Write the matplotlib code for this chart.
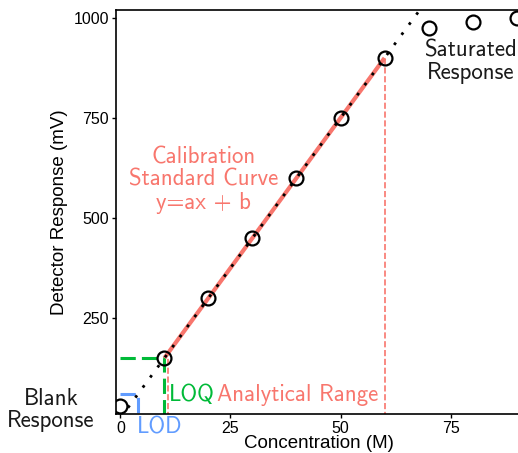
import matplotlib
matplotlib.use("Agg")
import matplotlib.pyplot as plt
import numpy as np

# calibration data
conc = [0, 10, 20, 30, 40, 50, 60, 70, 80, 90]
response = [30, 150, 300, 450, 600, 750, 900, 975, 990, 1000]

slope, intercept = 15, 0
lod = (4, 60)
loq = (10, 150)
range_lo, range_hi = 10.7, 60

x_ticks = [0, 25, 50, 75]
y_ticks = [250, 500, 750, 1000]

red = '#F8766D'
green = '#00BA38'
blue = '#619CFF'
annot_font = 'cmss10'
fs = 16.5

fig = plt.figure(figsize=(5.18, 4.53), dpi=100)
ax = fig.add_axes([116 / 518, 39 / 453, 405 / 518, 404 / 453])
ax.set_xlim(-1, 91)
ax.set_ylim(10, 1020)

# dotted theoretical line
xl = np.array([-5, 100])
ax.plot(xl, slope * xl + intercept, color='black', ls=(0, (1, 3.5)), lw=2, zorder=4)

# calibration range line
ax.plot([conc[1], conc[6]], [response[1], response[6]], color=red, lw=3, zorder=3,
        solid_capstyle='butt')

# analytical range verticals
ax.plot([range_lo, range_lo], [0, response[1]], color=red, ls='--', lw=1.2, zorder=2)
ax.plot([range_hi, range_hi], [0, response[6]], color=red, ls='--', lw=1.2, zorder=2)

# LOQ and LOD markers
ax.plot([0, loq[0], loq[0]], [loq[1], loq[1], 0], color=green, ls=(0, (5, 2)), lw=2.2, zorder=2)
ax.plot([0, lod[0], lod[0]], [lod[1], lod[1], 0], color=blue, ls=(0, (5, 2)), lw=2.2, zorder=2)

ax.plot(conc, response, 'o', ms=10, mfc='none', mec='black', mew=1.6, zorder=5)

# annotations
ax.text(18.8, 595, 'Calibration\nStandard Curve\ny=ax + b', color=red, fontsize=fs,
        family=annot_font, ha='center', va='center', linespacing=1.05)
ax.text(79.5, 890, 'Saturated\nResponse', color='#1a1a1a', fontsize=fs,
        family=annot_font, ha='center', va='center', linespacing=1.05)
ax.text(-15.8, 20, 'Blank\nResponse', color='#1a1a1a', fontsize=fs,
        family=annot_font, ha='center', va='center', linespacing=1.05, clip_on=False)
ax.text(8.8, -25, 'LOD', color=blue, fontsize=fs, family=annot_font,
        ha='center', va='center', clip_on=False)
ax.text(10.9, 57, 'LOQ', color=green, fontsize=fs, family=annot_font,
        ha='left', va='center')
ax.text(21.9, 57, 'Analytical Range', color=red, fontsize=fs, family=annot_font,
        ha='left', va='center')

ax.set_xticks(x_ticks)
ax.set_yticks(y_ticks)
ax.tick_params(length=3, width=1, labelsize=11.5, pad=2, colors='black')
for lab in ax.get_xticklabels() + ax.get_yticklabels():
    lab.set_family('Liberation Sans')
ax.set_xlabel('Concentration (M)', fontsize=13.5, family='Liberation Sans', labelpad=-1)
ax.set_ylabel('Detector Response (mV)', fontsize=13.5, family='Liberation Sans', labelpad=4)
for s in ax.spines.values():
    s.set_linewidth(1.2)

fig.savefig('out.png', dpi=100, facecolor='white')
